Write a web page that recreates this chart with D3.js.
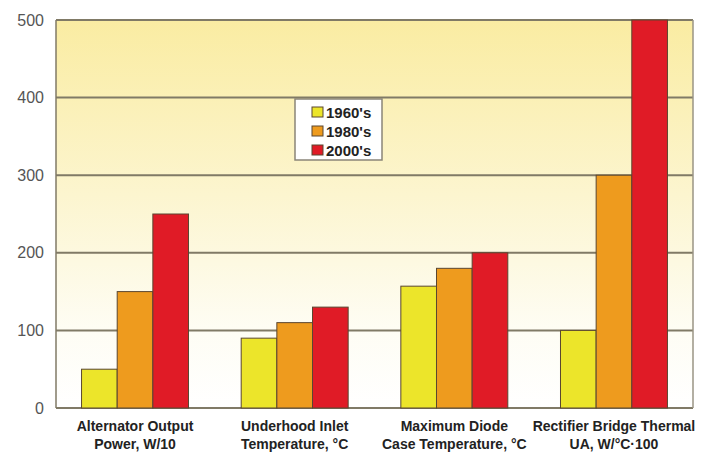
<!DOCTYPE html>
<html>
<head>
<meta charset="utf-8">
<script src="https://cdn.jsdelivr.net/npm/d3@7"></script>
<style>
  html, body { margin: 0; padding: 0; background: #ffffff; }
  svg { display: block; }
</style>
</head>
<body>
<svg id="chart" width="725" height="453"></svg>
<script>
// Category labels (two lines each)
const categories = [
  ["Alternator Output", "Power, W/10"],
  ["Underhood Inlet", "Temperature, °C"],
  ["Maximum Diode", "Case Temperature, °C"],
  ["Rectifier Bridge Thermal", "UA, W/°C·100"]
];
const seriesNames = ["1960's", "1980's", "2000's"];
const values1960 = [50, 90, 157, 100];
const values1980 = [150, 110, 180, 300];
const values2000 = [250, 130, 200, 500];
const yTicks = [0, 100, 200, 300, 400, 500];

const seriesValues = [values1960, values1980, values2000];
const colors = ["#ece52a", "#ee9b1e", "#e01b26"];

const svg = d3.select("#chart");
const margin = { left: 56, right: 32, top: 20, bottom: 45 };
const W = 725, H = 453;
const x0 = margin.left, x1 = W - margin.right;
const yTop = margin.top, yBot = H - margin.bottom;

const x = d3.scaleBand().domain(d3.range(categories.length)).range([x0, x1]).paddingInner(0.33).paddingOuter(0.16);
const xs = d3.scaleBand().domain(d3.range(seriesNames.length)).range([0, x.bandwidth()]);
const y = d3.scaleLinear().domain([0, 500]).range([yBot, yTop]);

// background gradient
const defs = svg.append("defs");
const grad = defs.append("linearGradient").attr("id", "bg").attr("x1", 0).attr("y1", 0).attr("x2", 0).attr("y2", 1);
grad.append("stop").attr("offset", "0%").attr("stop-color", "#faeca2");
grad.append("stop").attr("offset", "45%").attr("stop-color", "#fcf5cf");
grad.append("stop").attr("offset", "80%").attr("stop-color", "#fefdf4");
grad.append("stop").attr("offset", "100%").attr("stop-color", "#ffffff");

svg.append("rect").attr("x", x0).attr("y", yTop).attr("width", x1 - x0).attr("height", yBot - yTop).attr("fill", "url(#bg)");

// gridlines
svg.append("g").selectAll("line").data(yTicks).join("line")
  .attr("x1", x0).attr("x2", x1)
  .attr("y1", d => y(d)).attr("y2", d => y(d))
  .attr("stroke", "#807a66").attr("stroke-width", 2);

// frame sides
svg.append("line").attr("x1", x0).attr("x2", x0).attr("y1", yTop).attr("y2", yBot).attr("stroke", "#807a66").attr("stroke-width", 1.5);
svg.append("line").attr("x1", x1).attr("x2", x1).attr("y1", yTop).attr("y2", yBot).attr("stroke", "#9a9585").attr("stroke-width", 1.5);

// y axis labels
const yAxis = d3.axisLeft(y).tickValues(yTicks).tickSize(0).tickPadding(12);
const ga = svg.append("g").attr("transform", `translate(${x0},0)`).call(yAxis);
ga.select(".domain").remove();
ga.selectAll("text").attr("font-family", "Liberation Sans, Arial, sans-serif").attr("font-size", 16).attr("fill", "#555");

// bars
const groups = svg.append("g").selectAll("g").data(categories.map((c, i) => i)).join("g")
  .attr("transform", i => `translate(${x(i)},0)`);
groups.selectAll("rect").data(i => seriesValues.map((vals, s) => ({ s, v: vals[i] }))).join("rect")
  .attr("x", d => xs(d.s)).attr("width", xs.bandwidth())
  .attr("y", d => y(d.v)).attr("height", d => y(0) - y(d.v))
  .attr("fill", d => colors[d.s]).attr("stroke", "#5a4630").attr("stroke-width", 1);

// category labels
const lab = svg.append("g").selectAll("text").data(categories).join("text")
  .attr("text-anchor", "middle")
  .attr("font-family", "Liberation Sans, Arial, sans-serif").attr("font-weight", "bold")
  .attr("font-size", 14).attr("fill", "#222")
  .attr("x", (d, i) => x(i) + x.bandwidth() / 2);
lab.selectAll("tspan").data(d => d).join("tspan")
  .attr("x", function () { return d3.select(this.parentNode).attr("x"); })
  .attr("y", (d, j) => 431 + j * 18)
  .text(d => d);

// legend
const lg = svg.append("g").attr("transform", "translate(295,99)");
lg.append("rect").attr("width", 87).attr("height", 61).attr("fill", "#ffffff").attr("stroke", "#8a8578").attr("stroke-width", 1.5);
const items = lg.selectAll("g").data(seriesNames).join("g").attr("transform", (d, i) => `translate(17,${8 + i * 19})`);
items.append("rect").attr("width", 11).attr("height", 10).attr("fill", (d, i) => colors[i]).attr("stroke", "#5a4630").attr("stroke-width", 1);
items.append("text").attr("x", 14).attr("y", 10.5)
  .attr("font-family", "Liberation Sans, Arial, sans-serif").attr("font-weight", "bold").attr("font-size", 15).attr("fill", "#222")
  .text(d => d);
</script>
</body>
</html>
